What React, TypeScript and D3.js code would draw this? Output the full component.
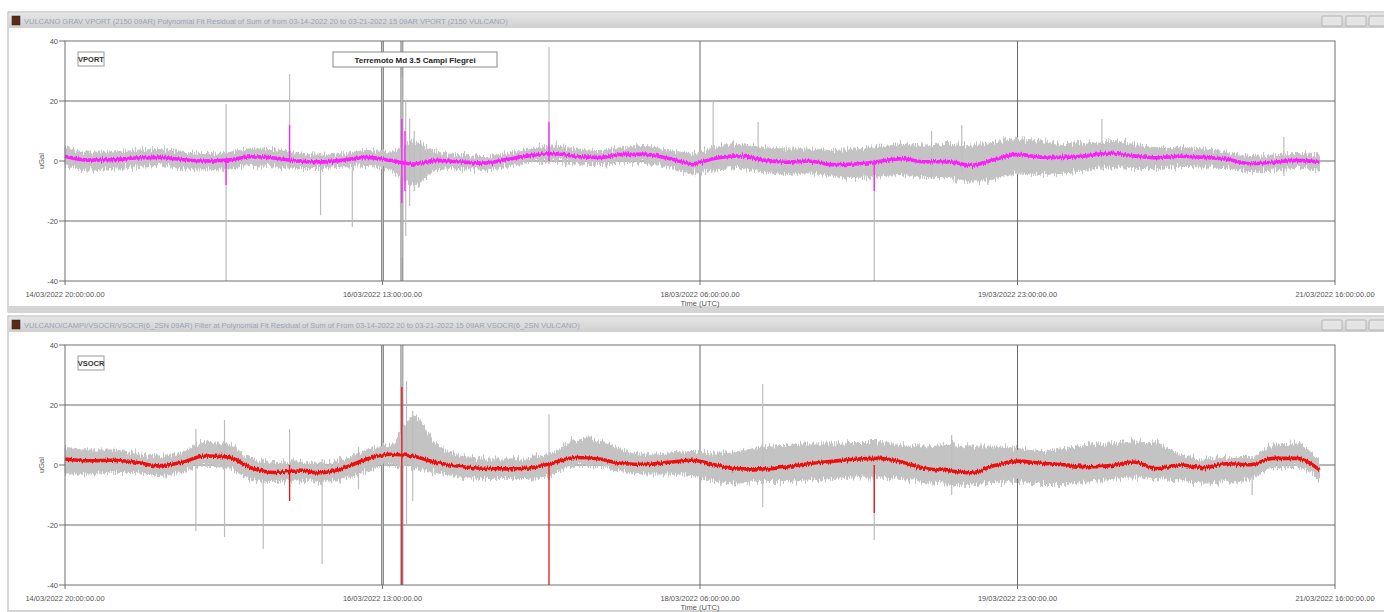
import React from "react";
import * as d3 from "d3";

// time span of the two plots (UTC)
const START = Date.UTC(2022, 2, 14, 20);
const END = Date.UTC(2022, 2, 21, 16);
const tickTimes = [
  Date.UTC(2022, 2, 14, 20),
  Date.UTC(2022, 2, 16, 13),
  Date.UTC(2022, 2, 18, 6),
  Date.UTC(2022, 2, 19, 23),
  Date.UTC(2022, 2, 21, 16),
];
const yTicks = [40, 20, 0, -20, -40];
const gridY = [20, 0, -20];
const eventHours = [41, 43.5];

// samples every 3 hours from start
const sampleHours = d3.range(0, 163, 3);

// VPORT (uGal)
const vportCenter = [1.6, 0.3, 0.4, 1.0, 1.2, 0.5, 0, 0.3, 1.4, 1.0, 0, -0.3, 0.3, 1.2, 0.2, -1.0, 0.2, -0.3, -0.7, 0.5, 1.8, 2.5, 1.5, 1.2, 2.2, 2.2, 0.8, -0.9, 0.9, 1.7, 0.4, -0.4, 0, -1.2, -1.0, -0.2, 0.8, -0.3, -0.2, -1.4, 0.4, 2.2, 1.3, 1.2, 1.8, 2.6, 1.7, 1.1, 1.6, 1.2, 0.6, -0.9, -0.4, 0.2, -0.4];
const vportRawTop = [4.5, 3, 3, 3.5, 3.8, 3, 2.5, 2.8, 4, 3.8, 2.5, 2, 2.5, 3.5, 3, 6, 3, 2, 1.5, 2.5, 4, 5, 4, 3.5, 4.5, 4.8, 3.5, 2.5, 4.5, 5.5, 4.5, 4, 4, 3.5, 4, 4.5, 5.5, 5, 5.5, 5, 6, 7.5, 6.5, 5.5, 6, 6.5, 5.5, 4.5, 4.5, 4, 3, 1.5, 2, 2.5, 2];
const vportRawBottom = [-1.5, -3, -2.5, -2, -1.5, -2.5, -3, -2.5, -1.5, -2, -2.5, -2.5, -2, -1.5, -3, -8, -3, -2.5, -3, -1.8, -0.5, 0, -1, -1.2, -0.3, -0.5, -2, -4, -3, -2.5, -3.5, -4.5, -4, -5, -5.5, -5, -4.5, -5.5, -5.5, -7, -6, -4, -4.5, -4, -3, -2, -2.5, -2.5, -1.8, -2, -2.2, -3.5, -3, -2.5, -3];
// spikes: hour, top, bottom
const vportRawSpikeHours = [20.8, 29.0, 33.0, 37.1, 43.5, 44.0, 44.5, 45.1, 45.9, 62.5, 83.7, 89.5, 104.5, 111.9, 115.8, 133.9, 157.4];
const vportRawSpikeTop = [19, 29, 1, 1, 28, 20, 14, 10, 7, 38, 20, 13, 2, 10, 12, 14, 8];
const vportRawSpikeBottom = [-40, -2, -18, -22, -32, -25, -15, -10, -7, -1, -3, -2, -40, -6, -4, -3, -5];
const vportSpikeHours = [20.8, 29.0, 43.5, 43.9, 62.5, 104.5];
const vportSpikeTop = [0, 12, 14, 10, 13, 0];
const vportSpikeBottom = [-8, 0, -14, -10, 0, -10];

// VSOCR (uGal)
const vsocrCenter = [2.0, 1.4, 1.6, 1.0, -0.3, 0.8, 3.0, 2.7, -0.9, -2.5, -2.0, -2.6, -1.0, 2.0, 3.6, 2.9, 0.8, -0.5, -1.1, -1.3, -1.0, 0.7, 2.5, 2.0, 0.5, 0.2, 0.9, 1.6, 0, -1.3, -1.3, -0.7, 0.4, 1.2, 1.9, 2.2, 1.0, -1.1, -1.9, -2.6, -0.2, 1.3, 0.6, 0.1, -0.6, -0.2, 1.0, -1.2, 0, -0.9, 0.4, 0.1, 2.2, 2.2, -1.6];
const vsocrRawTop = [5.5, 5, 5, 4, 3, 4, 7.5, 7, 2, 0.5, 1, 0.5, 2, 5, 6.5, 16, 7, 3, 2, 2, 2.5, 4, 8.5, 8, 5, 3.5, 4, 4.5, 4, 4.5, 6, 6.5, 7, 7, 7.5, 7.5, 6.5, 6, 6.5, 6, 6, 5.5, 4.5, 5.5, 6.5, 7, 8, 7, 3.5, 2, 2.5, 2.5, 6.5, 7, 1];
const vsocrRawBottom = [-3, -3, -2.5, -2.5, -3.5, -2.5, 0, -1, -4.5, -5.5, -5, -5.5, -4.5, -2, 0, -1, -2.5, -4, -4.5, -4.5, -4.5, -3, 0, -0.5, -2, -3, -3, -3.5, -5.5, -6, -5.5, -5.5, -5, -4.5, -4, -4, -4.5, -5.5, -6, -6.5, -6, -5.5, -6.5, -6.5, -5.5, -4.5, -4, -4.5, -5, -6, -5.5, -4.5, -1, -0.5, -5];
const vsocrRawSpikeHours = [16.9, 20.6, 25.6, 29.0, 33.2, 37.9, 43.5, 44.1, 44.9, 62.5, 90.1, 104.5, 114.5, 153.3];
const vsocrRawSpikeTop = [12, 15, 2, 12, 2, 6, 40, 28, 18, 17, 27, 2, 10, 3];
const vsocrRawSpikeBottom = [-22, -24, -28, -12, -33, -8, -40, -20, -12, -5, -14, -25, -10, -10];
const vsocrSpikeHours = [29.0, 43.5, 62.5, 104.5];
const vsocrSpikeTop = [0, 26, 0, 0];
const vsocrSpikeBottom = [-12, -40, -40, -16];

const fmt = d3.utcFormat("%d/%m/%Y %H:%M:%S.00");
const FONT = "'Liberation Sans', Arial, sans-serif";

type PanelProps = {
  y0: number;
  title: string;
  station: string;
  color: string;
  center: number[];
  rawTop: number[];
  rawBottom: number[];
  rawSpikes: [number[], number[], number[]];
  spikes: [number[], number[], number[]];
  note?: string;
};

const left = 65;
const right = 1335;

function Panel(p: PanelProps) {
  const x = d3.scaleTime().domain([new Date(START), new Date(END)]).range([left, right]);
  const y = d3.scaleLinear().domain([-40, 40]).range([p.y0 + 269, p.y0 + 29]);
  const at = (h: number) => x(new Date(START + h * 3600000));

  const rows = sampleHours.map((h, i) => ({ h, c: p.center[i], t: p.rawTop[i], b: p.rawBottom[i] }));
  const band = d3.area<any>().x((d) => at(d.h)).y0((d) => y(d.b)).y1((d) => y(d.t)).curve(d3.curveMonotoneX);
  const line = d3.line<any>().x((d) => at(d.h)).y((d) => y(d.c)).curve(d3.curveMonotoneX);

  const top = y(40);
  const bottom = y(-40);

  return (
    <g>
      {/* window frame */}
      <rect x={8} y={p.y0} width={1390} height={300} fill="#fff" stroke="#b0b0b0" />
      <rect x={9} y={p.y0 + 1} width={1390} height={15} fill="url(#tb)" />
      <rect x={12} y={p.y0 + 4} width={8} height={9} fill="#5a2c10" stroke="#222" strokeWidth={0.5} />
      <text x={24} y={p.y0 + 11.5} fontSize={7.5} fill="#9aa3b3" fontFamily={FONT}>{p.title}</text>
      {[1322, 1346, 1369].map((bx, i) => (
        <rect key={i} x={bx} y={p.y0 + 4} width={20} height={10} fill="#e4e4e4" stroke="#a8a8a8" strokeWidth={0.8} rx={1} />
      ))}
      <rect x={8} y={p.y0 + 294} width={1390} height={7} fill="#d4d4d4" />

      {/* grid */}
      {gridY.map((v) => (
        <line key={v} x1={left} x2={right} y1={y(v)} y2={y(v)} stroke="#6a6a6a" strokeWidth={1} />
      ))}
      {tickTimes.slice(1, 4).map((t) => (
        <line key={t} x1={x(new Date(t))} x2={x(new Date(t))} y1={top} y2={bottom} stroke="#6a6a6a" strokeWidth={1} />
      ))}
      {eventHours.map((h) => (
        <g key={h}>
          <line x1={at(h)} x2={at(h)} y1={top} y2={bottom} stroke="#8c8c8c" strokeWidth={3} />
          <line x1={at(h)} x2={at(h)} y1={top} y2={bottom} stroke="#c4c4c4" strokeWidth={1} />
        </g>
      ))}

      {/* raw series */}
      <g filter="url(#jitter)">
        <path d={band(rows) || ""} fill="#c3c3c3" stroke="#c3c3c3" strokeWidth={1} />
      </g>
      {p.rawSpikes[0].map((h, i) => (
        <line key={i} x1={at(h)} x2={at(h)} y1={y(p.rawSpikes[1][i])} y2={y(p.rawSpikes[2][i])} stroke="#bdbdbd" strokeWidth={1.2} />
      ))}
      {/* filtered series */}
      {p.spikes[0].map((h, i) => (
        <line key={i} x1={at(h)} x2={at(h)} y1={y(p.spikes[1][i])} y2={y(p.spikes[2][i])} stroke={p.color} strokeWidth={1.3} />
      ))}
      <g filter="url(#jitterSmall)">
        <path d={line(rows) || ""} fill="none" stroke={p.color} strokeWidth={3.6} strokeLinejoin="round" />
      </g>

      {/* plot frame */}
      <rect x={left} y={top} width={right - left} height={bottom - top} fill="none" stroke="#707070" strokeWidth={1} />

      {/* y axis */}
      {yTicks.map((v) => (
        <g key={v}>
          <line x1={left - 6} x2={left} y1={y(v)} y2={y(v)} stroke="#707070" />
          <text x={left - 7} y={y(v) + 2.5} fontSize={7.5} textAnchor="end" fill="#555" fontFamily={FONT}>{v}</text>
        </g>
      ))}
      <text transform={`translate(44,${y(0)}) rotate(-90)`} fontSize={7.5} textAnchor="middle" fill="#555" fontFamily={FONT}>uGal</text>

      {/* x axis */}
      {tickTimes.map((t) => (
        <g key={t}>
          <line x1={x(new Date(t))} x2={x(new Date(t))} y1={bottom} y2={bottom + 4} stroke="#707070" />
          <text x={x(new Date(t))} y={bottom + 16} fontSize={7.5} textAnchor="middle" fill="#555" fontFamily={FONT}>{fmt(new Date(t))}</text>
        </g>
      ))}
      <text x={(left + right) / 2} y={bottom + 25} fontSize={7.5} textAnchor="middle" fill="#555" fontFamily={FONT}>Time (UTC)</text>

      {/* labels */}
      <rect x={78} y={p.y0 + 40} width={26} height={14} fill="#fff" stroke="#9a9a9a" strokeWidth={1} />
      <text x={91} y={p.y0 + 50} fontSize={7.5} textAnchor="middle" fontWeight="bold" fill="#333" fontFamily={FONT}>{p.station}</text>
      {p.note && (
        <g>
          <rect x={333} y={p.y0 + 40} width={164} height={15} fill="#fff" stroke="#8a8a8a" strokeWidth={1} />
          <text x={415} y={p.y0 + 51} fontSize={8} textAnchor="middle" fontWeight="bold" fill="#222" fontFamily={FONT}>{p.note}</text>
        </g>
      )}
    </g>
  );
}

export default function App() {
  return (
    <svg width={1384} height={612} style={{ position: "absolute", left: 0, top: 0, background: "#fff" }}>
      <defs>
        <linearGradient id="tb" x1="0" x2="0" y1="0" y2="1">
          <stop offset="0" stopColor="#e6e6e6" />
          <stop offset="1" stopColor="#cfcfcf" />
        </linearGradient>
        {/* rendering texture only: roughens the edges of the bands */}
        <filter id="jitter" filterUnits="userSpaceOnUse" x={0} y={0} width={1384} height={612}>
          <feTurbulence type="fractalNoise" baseFrequency="0.9 0.04" numOctaves={2} seed={3} result="n" />
          <feColorMatrix in="n" type="matrix" values="0 0 0 0 0.5  0 1 0 0 0  0 0 0 0 0  0 0 0 0 1" result="m" />
          <feDisplacementMap in="SourceGraphic" in2="m" scale={14} xChannelSelector="R" yChannelSelector="G" />
        </filter>
        <filter id="jitterSmall" filterUnits="userSpaceOnUse" x={0} y={0} width={1384} height={612}>
          <feTurbulence type="fractalNoise" baseFrequency="0.8 0.05" numOctaves={2} seed={7} result="n" />
          <feColorMatrix in="n" type="matrix" values="0 0 0 0 0.5  0 1 0 0 0  0 0 0 0 0  0 0 0 0 1" result="m" />
          <feDisplacementMap in="SourceGraphic" in2="m" scale={5} xChannelSelector="R" yChannelSelector="G" />
        </filter>
      </defs>
      <Panel
        y0={12}
        title="VULCANO GRAV VPORT (2150 09AR) Polynomial Fit Residual of Sum of from 03-14-2022 20 to 03-21-2022 15 09AR VPORT (2150 VULCANO)"
        station="VPORT"
        color="#ff1cff"
        center={vportCenter}
        rawTop={vportRawTop}
        rawBottom={vportRawBottom}
        rawSpikes={[vportRawSpikeHours, vportRawSpikeTop, vportRawSpikeBottom]}
        spikes={[vportSpikeHours, vportSpikeTop, vportSpikeBottom]}
        note="Terremoto Md 3.5 Campi Flegrei"
      />
      <Panel
        y0={316}
        title="VULCANO/CAMPI/VSOCR/VSOCR(6_2SN 09AR) Filter at Polynomial Fit Residual of Sum of From 03-14-2022 20 to 03-21-2022 15 09AR VSOCR(6_2SN VULCANO)"
        station="VSOCR"
        color="#f01010"
        center={vsocrCenter}
        rawTop={vsocrRawTop}
        rawBottom={vsocrRawBottom}
        rawSpikes={[vsocrRawSpikeHours, vsocrRawSpikeTop, vsocrRawSpikeBottom]}
        spikes={[vsocrSpikeHours, vsocrSpikeTop, vsocrSpikeBottom]}
      />
    </svg>
  );
}
